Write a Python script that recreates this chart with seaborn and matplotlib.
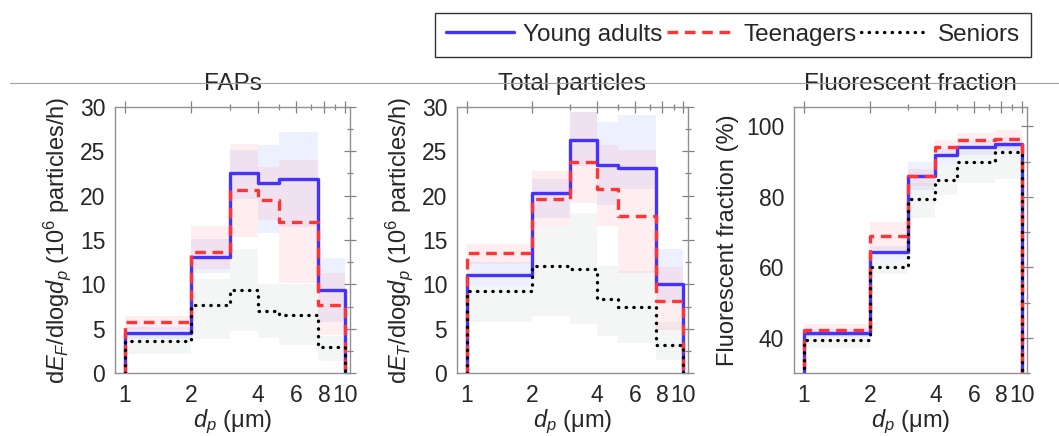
import numpy as np
import pandas as pd
import matplotlib.pyplot as plt
import seaborn as sns
from matplotlib.ticker import FixedLocator, NullFormatter, MultipleLocator
from matplotlib.lines import Line2D

sns.set_theme(style="white")
plt.rcParams["font.family"] = ["Liberation Sans", "DejaVu Sans"]
plt.rcParams["mathtext.fontset"] = "custom"
plt.rcParams["mathtext.rm"] = "Liberation Sans"
plt.rcParams["mathtext.it"] = "Liberation Sans:italic"

# size bin edges (um)
edges = [1, 2, 3, 4, 5, 7.5, 10]
groups = ["Young adults", "Teenagers", "Seniors"]

# FAPs
faps_young = [4.5, 13.1, 22.6, 21.4, 21.9, 9.4]
faps_teen = [5.7, 13.6, 20.6, 19.5, 17.0, 7.7]
faps_senior = [3.6, 7.7, 9.4, 7.0, 6.5, 2.9]
faps_young_lo = [3.8, 11.3, 19.6, 15.8, 16.5, 5.7]
faps_young_hi = [5.2, 15.1, 25.1, 25.7, 27.2, 13.0]
faps_teen_lo = [4.9, 11.7, 15.3, 17.2, 10.2, 4.3]
faps_teen_hi = [6.4, 16.6, 25.8, 23.2, 24.0, 11.3]
faps_senior_lo = [2.1, 3.8, 4.7, 4.0, 3.2, 1.3]
faps_senior_hi = [4.5, 10.6, 14.0, 10.0, 10.0, 4.2]

# Total particles
tot_young = [11.0, 20.3, 26.3, 23.5, 23.1, 10.0]
tot_teen = [13.5, 19.6, 23.8, 20.8, 17.7, 8.1]
tot_senior = [9.2, 12.1, 11.7, 8.3, 7.4, 3.2]
tot_young_lo = [9.8, 17.5, 23.4, 18.9, 20.8, 7.9]
tot_young_hi = [12.5, 21.9, 29.4, 28.3, 29.1, 14.0]
tot_teen_lo = [12.3, 16.6, 19.2, 16.6, 11.3, 4.9]
tot_teen_hi = [14.5, 22.8, 29.4, 25.7, 25.1, 11.9]
tot_senior_lo = [5.7, 6.4, 5.5, 4.2, 3.4, 1.5]
tot_senior_hi = [9.8, 16.6, 18.1, 12.1, 11.5, 5.7]

# Fluorescent fraction (%)
ff_young = [41.4, 64.3, 85.9, 91.9, 94.2, 95.0]
ff_teen = [42.2, 68.8, 85.8, 94.1, 96.2, 96.5]
ff_senior = [39.5, 60.1, 79.3, 84.8, 90.0, 92.6]
ff_young_lo = [40.3, 62.0, 82.0, 89.0, 92.0, 93.0]
ff_young_hi = [42.5, 66.0, 90.0, 94.0, 96.0, 97.0]
ff_teen_lo = [40.5, 65.0, 83.0, 92.0, 94.5, 94.0]
ff_teen_hi = [44.0, 73.0, 88.0, 96.0, 98.0, 99.0]
ff_senior_lo = [37.0, 58.0, 74.0, 80.5, 84.0, 85.0]
ff_senior_hi = [41.0, 62.0, 84.0, 89.0, 93.0, 95.0]

colors = {"Young adults": "#4433ff", "Teenagers": "#ff3535", "Seniors": "#000000"}
band_colors = {"Young adults": "#6f8bff", "Teenagers": "#ff7a8a", "Seniors": "#a9b4b4"}
styles = {"Young adults": "-", "Teenagers": (0, (3.2, 2)), "Seniors": (0, (0.1, 2.2))}

panels = [
    ("FAPs", r"d$E_F$/dlog$d_p$ (10$^6$ particles/h)", (0, 30),
     [faps_young, faps_teen, faps_senior],
     [(faps_young_lo, faps_young_hi), (faps_teen_lo, faps_teen_hi), (faps_senior_lo, faps_senior_hi)]),
    ("Total particles", r"d$E_T$/dlog$d_p$ (10$^6$ particles/h)", (0, 30),
     [tot_young, tot_teen, tot_senior],
     [(tot_young_lo, tot_young_hi), (tot_teen_lo, tot_teen_hi), (tot_senior_lo, tot_senior_hi)]),
    ("Fluorescent fraction", "Fluorescent fraction (%)", (30, 105.5),
     [ff_young, ff_teen, ff_senior],
     [(ff_young_lo, ff_young_hi), (ff_teen_lo, ff_teen_hi), (ff_senior_lo, ff_senior_hi)]),
]

W, H = 1059, 436
fig = plt.figure(figsize=(W / 100, H / 100), dpi=100)
lefts = [115, 457, 794]
widths = [235, 231, 233]
top, bottom = 107, 373

for i, (title, ylabel, ylim, vals, bands) in enumerate(panels):
    ax = fig.add_axes([lefts[i] / W, 1 - bottom / H, widths[i] / W, (bottom - top) / H])
    for g, (lo, hi) in zip(groups, bands):
        ax.fill_between(edges, lo + [lo[-1]], hi + [hi[-1]], step="post",
                        color=band_colors[g], alpha=0.12, lw=0)
    for k, (g, v) in enumerate(zip(groups, vals)):
        # closed step outline: rise at 1 um, fall at 10 um
        df = pd.DataFrame({"dp": [edges[0]] + edges + [edges[-1]],
                           "val": [0] + v + [v[-1]] + [0]})
        sns.lineplot(data=df, x="dp", y="val", ax=ax, estimator=None, sort=False,
                     drawstyle="steps-post", color=colors[g], linestyle=styles[g],
                     lw=2.4, dash_capstyle="round" if g == "Seniors" else "butt",
                     zorder=3 + k, label=g, legend=False)
    ax.set_xscale("log")
    ax.set_xlim(0.9, 10.5)
    ax.set_ylim(*ylim)
    ax.xaxis.set_major_locator(FixedLocator([1, 2, 4, 6, 8, 10]))
    ax.xaxis.set_minor_locator(FixedLocator([3, 5, 7, 9]))
    ax.xaxis.set_minor_formatter(NullFormatter())
    ax.set_xticklabels(["1", "2", "4", "6", "8", "10"])
    if i < 2:
        ax.yaxis.set_major_locator(MultipleLocator(5))
        ax.yaxis.set_minor_locator(MultipleLocator(2.5))
    else:
        ax.yaxis.set_major_locator(MultipleLocator(20))
        ax.yaxis.set_minor_locator(MultipleLocator(10))
    ax.tick_params(which="both", direction="inout", top=True, right=True,
                   color="#808080", labelsize=16.5)
    ax.tick_params(axis="y", pad=3)
    ax.tick_params(axis="x", pad=4)
    ax.tick_params(which="major", length=8, width=0.9)
    ax.tick_params(which="minor", length=5, width=0.9)
    for s in ax.spines.values():
        s.set_color("#909090")
        s.set_linewidth(1.0)
    ax.set_title(title, fontsize=17.5, pad=12)
    ax.set_ylabel(ylabel, fontsize=17, labelpad=5)
    ax.set_xlabel(r"$d_p$ (μm)", fontsize=17, labelpad=0)
    if i == 0:
        handles = [Line2D([0], [0], color=colors[g], linestyle=styles[g], lw=2.4,
                          dash_capstyle="round" if g == "Seniors" else "butt") for g in groups]

# thin separator line under legend
fig.add_artist(Line2D([10 / W, 1.0], [1 - 83 / H, 1 - 83 / H], color="#a0a0a0", lw=0.8))

leg = fig.legend(handles, groups, loc="upper right", bbox_to_anchor=(1031 / W, 1 - 13 / H),
                 ncol=3, fontsize=17.5, frameon=True, fancybox=False, handlelength=2.8,
                 handletextpad=0.35, columnspacing=0.2, borderpad=0.45, borderaxespad=0)
leg.get_frame().set_edgecolor("black")
leg.get_frame().set_linewidth(1.0)

fig.savefig("out.png", dpi=100)
